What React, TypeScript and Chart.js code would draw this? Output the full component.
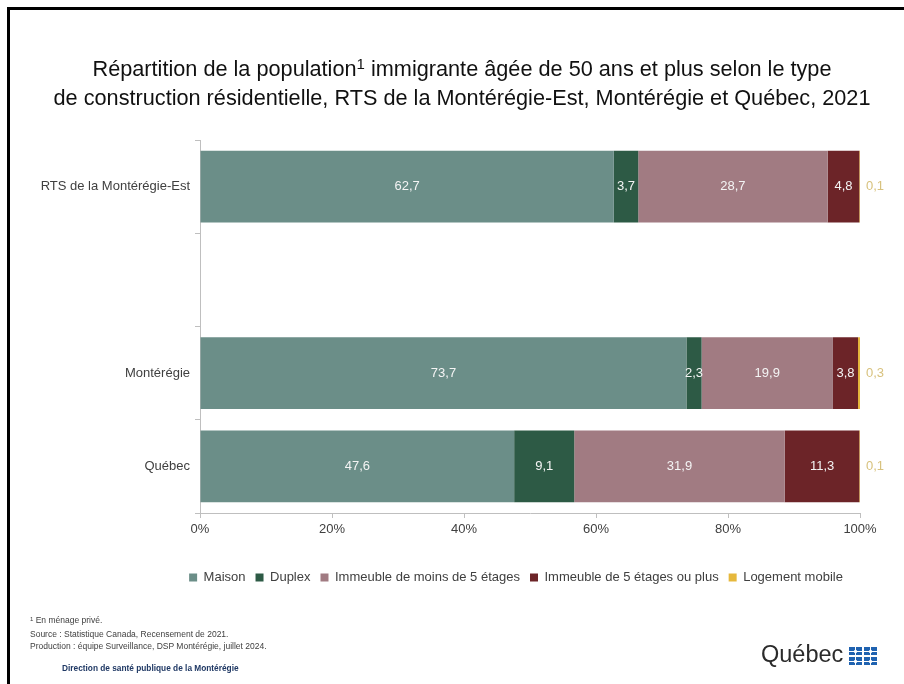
import React, { useEffect, useRef } from "react";
import { Chart, registerables } from "chart.js";

Chart.register(...registerables);

const categories = ["RTS de la Montérégie-Est", "", "Montérégie", "Québec"];
const seriesNames = [
  "Maison",
  "Duplex",
  "Immeuble de moins de 5 étages",
  "Immeuble de 5 étages ou plus",
  "Logement mobile",
];
const maison = [62.7, null, 73.7, 47.6];
const duplex = [3.7, null, 2.3, 9.1];
const moins5 = [28.7, null, 19.9, 31.9];
const plus5 = [4.8, null, 3.8, 11.3];
const mobile = [0.1, null, 0.3, 0.1];
const seriesColors = ["#6b8e88", "#2d5a45", "#a17b82", "#6c2428", "#e6b83c"];
const xMin = 0;
const xMax = 100;
const xStep = 20;

const FONT = "'Liberation Sans', Arial, sans-serif";

const valueLabels = {
  id: "valueLabels",
  afterDatasetsDraw(chart: any) {
    const ctx = chart.ctx;
    ctx.save();
    ctx.font = `13px ${FONT}`;
    ctx.textBaseline = "middle";
    chart.data.datasets.forEach((ds: any, i: number) => {
      const meta = chart.getDatasetMeta(i);
      meta.data.forEach((bar: any, j: number) => {
        const v = ds.data[j];
        if (v == null) return;
        const txt = v.toFixed(1).replace(".", ",");
        if (i === 4) {
          ctx.fillStyle = "#d8c27e";
          ctx.textAlign = "left";
          ctx.fillText(txt, bar.x + 6, bar.y);
        } else {
          ctx.fillStyle = "#f4f4f4";
          ctx.textAlign = "center";
          ctx.fillText(txt, (bar.x + bar.base) / 2, bar.y);
        }
      });
    });
    ctx.restore();
  },
};

const legendShift = {
  id: "legendShift",
  afterLayout(chart: any) {
    const lg = chart.legend;
    if (lg) {
      lg.left += 86;
      lg.right += 86;
    }
  },
};

function Flag({ left, top }: { left: number; top: number }) {
  return (
    <div
      style={{
        position: "absolute",
        left,
        top,
        width: 13,
        height: 8,
        background: "#1f62b0",
      }}
    >
      <div style={{ position: "absolute", left: 6, top: 0, width: 1, height: 8, background: "#fff" }} />
      <div style={{ position: "absolute", left: 0, top: 3.5, width: 13, height: 1, background: "#fff" }} />
      <div style={{ position: "absolute", left: 5, top: 2.5, width: 3, height: 3, background: "#fff", borderRadius: 1 }} />
    </div>
  );
}

export default function App() {
  const canvasRef = useRef<HTMLCanvasElement | null>(null);

  useEffect(() => {
    const canvas = canvasRef.current;
    if (!canvas) return;
    const data = [maison, duplex, moins5, plus5, mobile];
    const chart = new Chart(canvas, {
      type: "bar",
      data: {
        labels: categories,
        datasets: seriesNames.map((name, i) => ({
          label: name,
          data: data[i],
          backgroundColor: seriesColors[i],
          borderWidth: 0,
          barPercentage: 0.77,
          categoryPercentage: 1,
        })),
      },
      options: {
        indexAxis: "y",
        responsive: false,
        animation: false,
        devicePixelRatio: 1,
        layout: { padding: { top: 140, right: 44, left: 0, bottom: 90 } },
        scales: {
          x: {
            stacked: true,
            min: xMin,
            max: xMax,
            ticks: {
              stepSize: xStep,
              callback: (v: any) => v + "%",
              color: "#404040",
              font: { size: 13, family: FONT },
              padding: 4,
            },
            grid: { drawOnChartArea: false, drawTicks: true, tickLength: 5, color: "#bfbfbf" },
            border: { color: "#bfbfbf" },
            afterFit: (s: any) => {
              s.height = 48;
            },
          },
          y: {
            stacked: true,
            ticks: { color: "#404040", font: { size: 13, family: FONT }, padding: 5 },
            grid: { drawOnChartArea: false, drawTicks: true, tickLength: 5, offset: true, color: "#bfbfbf" },
            border: { color: "#bfbfbf" },
            afterFit: (s: any) => {
              s.width = 200;
            },
          },
        },
        plugins: {
          legend: {
            position: "bottom",
            labels: {
              boxWidth: 8,
              boxHeight: 8,
              padding: 10,
              color: "#404040",
              font: { size: 13, family: FONT },
            },
          },
          tooltip: { enabled: false },
          title: { display: false },
        },
      } as any,
      plugins: [valueLabels, legendShift],
    });
    return () => chart.destroy();
  }, []);

  return (
    <div
      style={{
        position: "fixed",
        left: 0,
        top: 0,
        width: 904,
        height: 684,
        background: "#fff",
        overflow: "hidden",
        fontFamily: FONT,
      }}
    >
      <canvas ref={canvasRef} width={904} height={684} style={{ position: "absolute", left: 0, top: 0 }} />
      <div style={{ position: "absolute", left: 7, top: 7, width: 3, height: 677, background: "#000" }} />
      <div style={{ position: "absolute", left: 7, top: 7, width: 897, height: 3, background: "#000" }} />
      <div
        style={{
          position: "absolute",
          left: 0,
          width: 924,
          top: 55,
          textAlign: "center",
          fontSize: 21.7,
          lineHeight: "27px",
          color: "#111",
          whiteSpace: "nowrap",
        }}
      >
        Répartition de la population
        <span style={{ fontSize: 15, position: "relative", top: -7 }}>1</span> immigrante âgée de 50 ans et plus selon le type
        <br />
        de construction résidentielle, RTS de la Montérégie-Est, Montérégie et Québec, 2021
      </div>
      <div
        style={{
          position: "absolute",
          left: 30,
          top: 614,
          fontSize: 8.5,
          lineHeight: "12.5px",
          color: "#404040",
          fontFamily: "'Liberation Sans Narrow', 'Liberation Sans', Arial, sans-serif",
        }}
      >
        <div>
          <span style={{ fontSize: 6, position: "relative", top: -2 }}>1</span> En ménage privé.
        </div>
        <div>Source : Statistique Canada, Recensement de 2021.</div>
        <div>Production : équipe Surveillance, DSP Montérégie, juillet 2024.</div>
      </div>
      <div
        style={{
          position: "absolute",
          left: 62,
          top: 663,
          fontSize: 8.3,
          fontWeight: "bold",
          color: "#1f3864",
          fontFamily: "'Liberation Sans Narrow', 'Liberation Sans', Arial, sans-serif",
        }}
      >
        Direction de santé publique de la Montérégie
      </div>
      <div
        style={{
          position: "absolute",
          left: 761,
          top: 640,
          fontSize: 23.5,
          lineHeight: "28px",
          color: "#2b2b2b",
        }}
      >
        Québec
      </div>
      <Flag left={849} top={647} />
      <Flag left={864} top={647} />
      <Flag left={849} top={657} />
      <Flag left={864} top={657} />
    </div>
  );
}
